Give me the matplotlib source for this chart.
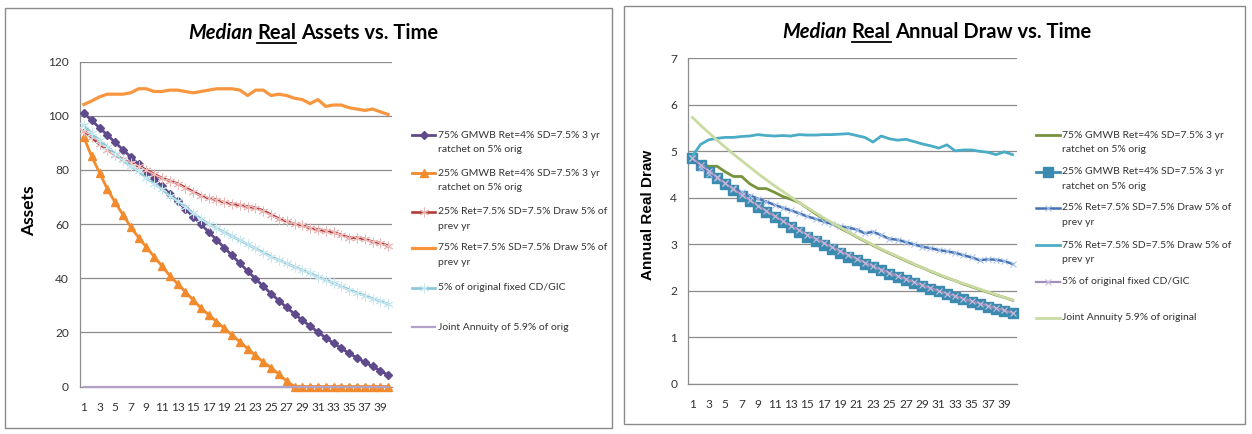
import matplotlib
matplotlib.use("Agg")
import matplotlib.pyplot as plt
from matplotlib.lines import Line2D
from matplotlib.patches import Rectangle

W, H = 1252, 434

years = list(range(1, 41))
xtick_years = list(range(1, 41, 2))

# ---- left chart: median real assets ----
gmwb75_assets = [101.0, 98.3, 95.6, 92.9, 90.2, 87.5, 84.8, 82.1, 79.4, 76.7,
                 74.0, 71.2, 68.4, 65.6, 62.8, 60.0, 57.1, 54.2, 51.3, 48.4,
                 45.5, 42.6, 39.8, 37.0, 34.3, 31.7, 29.2, 26.8, 24.5, 22.3,
                 20.1, 18.0, 16.0, 14.1, 12.3, 10.6, 9.0, 7.4, 5.8, 4.2]
gmwb25_assets = [92.0, 85.0, 79.0, 73.0, 68.0, 63.5, 59.0, 55.0, 51.5, 48.0,
                 44.5, 41.0, 38.0, 35.0, 32.0, 29.0, 26.5, 24.0, 21.5, 19.0,
                 16.5, 14.0, 11.5, 9.0, 7.0, 4.5, 2.0, 0.0, 0.0, 0.0,
                 0.0, 0.0, 0.0, 0.0, 0.0, 0.0, 0.0, 0.0, 0.0, 0.0]
ret25_assets = [94.5, 92.0, 89.5, 87.5, 85.5, 84.0, 82.5, 81.5, 80.0, 78.5,
                77.0, 76.0, 75.0, 73.5, 72.0, 70.5, 69.5, 69.0, 68.0, 67.5,
                67.0, 66.5, 66.0, 65.0, 63.5, 62.0, 61.0, 60.0, 59.5, 58.5,
                58.0, 57.5, 57.0, 56.0, 55.0, 55.0, 54.5, 53.5, 53.0, 52.0]
ret75_assets = [104.2, 105.5, 107.0, 108.0, 108.0, 108.0, 108.5, 110.0, 110.0, 109.0,
                109.0, 109.5, 109.5, 109.0, 108.5, 109.0, 109.5, 110.0, 110.0, 110.0,
                109.5, 107.5, 109.5, 109.5, 107.5, 108.0, 107.5, 106.5, 106.0, 104.5,
                106.0, 103.5, 104.0, 104.0, 103.0, 102.5, 102.0, 102.5, 101.5, 100.5]
cd_assets = [96.5, 93.5, 91.0, 88.5, 86.0, 83.5, 81.5, 79.5, 77.0, 75.0,
             73.0, 70.5, 68.5, 66.5, 64.0, 62.0, 60.0, 58.5, 57.0, 55.5,
             54.0, 52.5, 51.0, 49.5, 48.0, 46.7, 45.5, 44.2, 43.0, 41.8,
             40.6, 39.4, 38.2, 37.0, 35.8, 34.7, 33.6, 32.5, 31.5, 30.5]
annuity_assets = [0.0] * 40

# ---- right chart: median real annual draw ----
gmwb75_draw = [4.88, 4.72, 4.68, 4.68, 4.56, 4.46, 4.46, 4.30, 4.20, 4.20,
               4.12, 4.03, 3.97, 3.90, 3.78, 3.66, 3.55, 3.45, 3.35, 3.26,
               3.16, 3.07, 2.98, 2.89, 2.81, 2.73, 2.65, 2.57, 2.50, 2.42,
               2.35, 2.28, 2.22, 2.15, 2.09, 2.03, 1.97, 1.91, 1.86, 1.80]
gmwb25_draw = [4.85, 4.70, 4.56, 4.42, 4.29, 4.16, 4.04, 3.93, 3.81, 3.70,
               3.59, 3.48, 3.37, 3.27, 3.17, 3.07, 2.99, 2.90, 2.82, 2.74,
               2.66, 2.58, 2.51, 2.44, 2.37, 2.30, 2.24, 2.17, 2.11, 2.05,
               1.99, 1.93, 1.87, 1.82, 1.77, 1.71, 1.66, 1.61, 1.57, 1.52]
ret25_draw = [4.85, 4.65, 4.52, 4.42, 4.32, 4.22, 4.12, 4.05, 3.98, 3.92,
              3.85, 3.79, 3.73, 3.67, 3.60, 3.55, 3.49, 3.44, 3.39, 3.36,
              3.32, 3.24, 3.27, 3.20, 3.12, 3.10, 3.05, 3.00, 2.95, 2.92,
              2.88, 2.85, 2.82, 2.77, 2.72, 2.66, 2.68, 2.67, 2.64, 2.58]
ret75_draw = [4.90, 5.15, 5.25, 5.28, 5.30, 5.30, 5.32, 5.33, 5.36, 5.34,
              5.33, 5.34, 5.33, 5.36, 5.35, 5.35, 5.36, 5.36, 5.37, 5.38,
              5.34, 5.30, 5.20, 5.33, 5.27, 5.24, 5.26, 5.21, 5.16, 5.12,
              5.07, 5.14, 5.01, 5.03, 5.03, 5.00, 4.98, 4.93, 4.99, 4.93]
cd_draw = [4.85, 4.71, 4.58, 4.44, 4.31, 4.19, 4.07, 3.95, 3.83, 3.72,
           3.61, 3.51, 3.40, 3.31, 3.21, 3.12, 3.03, 2.94, 2.85, 2.77,
           2.69, 2.61, 2.53, 2.46, 2.39, 2.32, 2.25, 2.19, 2.12, 2.06,
           2.00, 1.94, 1.89, 1.83, 1.78, 1.73, 1.68, 1.63, 1.58, 1.53]
annuity_draw = [5.73, 5.56, 5.40, 5.24, 5.09, 4.94, 4.80, 4.66, 4.52, 4.39,
                4.26, 4.14, 4.02, 3.90, 3.79, 3.68, 3.57, 3.47, 3.37, 3.27,
                3.17, 3.08, 2.99, 2.90, 2.82, 2.74, 2.66, 2.58, 2.50, 2.43,
                2.36, 2.29, 2.22, 2.16, 2.10, 2.04, 1.98, 1.92, 1.86, 1.81]

left_labels = ["75% GMWB Ret=4% SD=7.5% 3 yr\nratchet on 5% orig",
               "25% GMWB Ret=4% SD=7.5% 3 yr\nratchet on 5% orig",
               "25% Ret=7.5% SD=7.5% Draw 5% of\nprev yr",
               "75% Ret=7.5% SD=7.5% Draw 5% of\nprev yr",
               "5% of original fixed CD/GIC",
               "Joint Annuity of 5.9% of orig"]
right_labels = ["75% GMWB Ret=4% SD=7.5% 3 yr\nratchet on 5% orig",
                "25% GMWB Ret=4% SD=7.5% 3 yr\nratchet on 5% orig",
                "25% Ret=7.5% SD=7.5% Draw 5% of\nprev yr",
                "75% Ret=7.5% SD=7.5% Draw 5% of\nprev yr",
                "5% of original fixed CD/GIC",
                "Joint Annuity 5.9% of original"]

ASTER = (6, 2, 0)
left_styles = [
    dict(color="#5f4a8b", lw=2.0, marker="D", ms=4.4, mfc="#5f4a8b", mec="#5f4a8b"),
    dict(color="#f28a2e", lw=2.0, marker="^", ms=5.8, mfc="#f28a2e", mec="#f28a2e"),
    dict(color="#b23c3a", lw=1.9, marker=ASTER, ms=7, mfc="none", mec="#eab8b6", mew=0.7),
    dict(color="#f7963f", lw=2.3, marker=None),
    dict(color="#8ac6d8", lw=1.9, marker=ASTER, ms=7, mfc="none", mec="#c8e6ee", mew=0.7),
    dict(color="#b3a2c7", lw=1.6, marker=None),
]
right_styles = [
    dict(color="#77933c", lw=2.0, marker=None),
    dict(color="#3b8bb0", lw=2.0, marker="s", ms=6.5, mfc="#3b8bb0", mec="#3b8bb0"),
    dict(color="#4470b5", lw=1.8, marker="x", ms=5, mfc="none", mec="#a9c4e6", mew=0.8),
    dict(color="#4bacc6", lw=2.0, marker=None),
    dict(color="#a08fbd", lw=1.6, marker="x", ms=4, mfc="none", mec="#c9bedb", mew=0.8),
    dict(color="#c9dba2", lw=2.0, marker=None),
]

plt.rcParams["font.family"] = ["Lato", "DejaVu Sans"]

fig = plt.figure(figsize=(W / 100, H / 100), dpi=100)
fig.patch.set_facecolor("white")


def px(x, y):
    # pixel position (from top-left) to figure fraction
    return x / W, 1 - y / H


# chart frames
for (x0, y0, x1, y1) in [(5, 8, 612, 428), (624, 6, 1245, 424)]:
    fig.patches.append(Rectangle(px(x0, y1), (x1 - x0) / W, (y1 - y0) / H,
                                 transform=fig.transFigure, fill=False,
                                 edgecolor="#8a8a8a", lw=1.0))


def make_axes(left, top, right, bottom, ymax, ystep):
    ax = fig.add_axes([left / W, 1 - bottom / H, (right - left) / W, (bottom - top) / H])
    ax.set_xlim(0.5, 40.5)
    ax.set_ylim(0, ymax)
    ax.set_yticks(range(0, ymax + 1, ystep))
    ax.set_xticks(xtick_years)
    ax.yaxis.grid(True, color="#8c8c8c", lw=0.9)
    ax.set_axisbelow(True)
    for s in ["top", "right"]:
        ax.spines[s].set_visible(False)
    for s in ["left", "bottom"]:
        ax.spines[s].set_color("#8c8c8c")
        ax.spines[s].set_linewidth(0.9)
    ax.tick_params(axis="y", length=0, pad=8, labelsize=8.6, labelcolor="#333333")
    ax.tick_params(axis="x", length=0, pad=11, labelsize=8.6, labelcolor="#333333")
    return ax


def plot_series(ax, series, styles):
    for vals, st in zip(series, styles):
        ax.plot(years, vals, color=st["color"], lw=st["lw"], marker=st["marker"],
                ms=st.get("ms", 0), mfc=st.get("mfc"), mec=st.get("mec"),
                mew=st.get("mew", 1.0), clip_on=False, zorder=3)


def manual_legend(x0, x1, xt, ys, labels, styles):
    for y, lab, st in zip(ys, labels, styles):
        fx0, fy = px(x0, y)
        fx1, _ = px(x1, y)
        fig.lines.append(Line2D([fx0, fx1], [fy, fy], transform=fig.transFigure,
                                color=st["color"], lw=st["lw"]))
        if st["marker"] is not None:
            fig.lines.append(Line2D([(fx0 + fx1) / 2], [fy], transform=fig.transFigure,
                                    color=st["color"], marker=st["marker"], ms=st.get("ms", 0),
                                    mfc=st.get("mfc"), mec=st.get("mec"), mew=st.get("mew", 1.0)))
        for k, line in enumerate(lab.split("\n")):
            fig.text(xt / W, 1 - (y + 14.5 * k) / H, line, fontsize=7.5,
                     color="#333333", va="center", ha="left")


def fancy_title(cx, base_y, rest, size=14.5):
    kw = dict(fontsize=size, fontweight="bold", va="baseline", ha="left", color="black")
    t1 = fig.text(0, 1 - base_y / H, "Median", style="italic", **kw)
    t2 = fig.text(0, 1 - base_y / H, "Real", **kw)
    t3 = fig.text(0, 1 - base_y / H, rest, **kw)
    fig.canvas.draw()
    r = fig.canvas.get_renderer()
    w1 = t1.get_window_extent(r).width
    w2 = t2.get_window_extent(r).width
    w3 = t3.get_window_extent(r).width
    gap = size * 1.389 * 0.22
    total = w1 + gap + w2 + gap + w3
    x = cx - total / 2
    t1.set_x(x / W)
    t2.set_x((x + w1 + gap) / W)
    t3.set_x((x + w1 + 2 * gap + w2) / W)
    ux0 = x + w1 + gap
    fig.lines.append(Line2D([ux0 / W, (ux0 + w2) / W], [1 - (base_y + 3.5) / H] * 2,
                            transform=fig.transFigure, color="black", lw=1.3))


# left chart
ax1 = make_axes(80, 61.7, 392, 386.5, 120, 20)
plot_series(ax1, [gmwb75_assets, gmwb25_assets, ret25_assets, ret75_assets,
                  cd_assets, annuity_assets], left_styles)
ax1.set_ylabel("Assets", fontsize=12.5, fontweight="bold")
ax1.yaxis.set_label_coords(-0.138, 0.54)
manual_legend(412, 435, 438, [135, 173, 212, 248, 288, 327], left_labels, left_styles)

# right chart
ax2 = make_axes(688.3, 58.3, 1016.7, 384, 7, 1)
plot_series(ax2, [gmwb75_draw, gmwb25_draw, ret25_draw, ret75_draw,
                  cd_draw, annuity_draw], right_styles)
ax2.set_ylabel("Annual Real Draw", fontsize=11, fontweight="bold",
               family=["Liberation Sans", "DejaVu Sans"])
ax2.yaxis.set_label_coords(-0.101, 0.52)
manual_legend(1036, 1060, 1062, [135, 172, 208, 245, 282, 318], right_labels, right_styles)

fancy_title(313, 39, "Assets vs. Time")
fancy_title(937, 38.5, "Annual Draw vs. Time")

fig.savefig("out.png", dpi=100, facecolor="white")
